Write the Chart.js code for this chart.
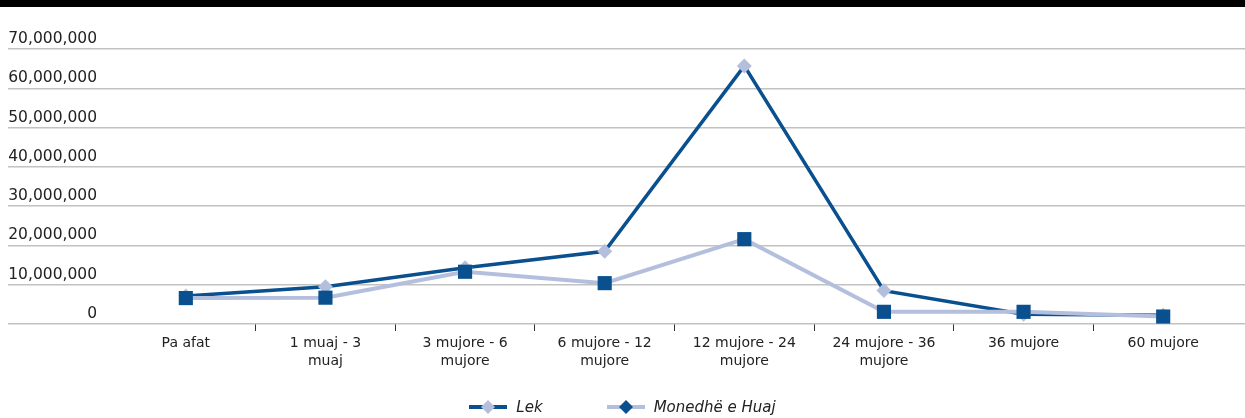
<!DOCTYPE html>
<html lang="sq">
<head>
    <meta charset="UTF-8">
    <title>Afatet - Lek / Monedhë e Huaj</title>
    <script src="https://cdn.jsdelivr.net/npm/chart.js@4.4.0/dist/chart.umd.js"></script>
    <style>
        html, body {
            margin: 0;
            padding: 0;
            background: #ffffff;
        }
        .wrap {
            position: relative;
            width: 1245px;
            height: 418px;
            overflow: hidden;
        }
        .topbar {
            position: absolute;
            left: 0;
            top: 0;
            width: 1245px;
            height: 7px;
            background: #000000;
        }
        #legend {
            position: absolute;
            left: 0;
            top: 398px;
            width: 1245px;
            display: flex;
            justify-content: center;
            align-items: center;
            font-family: "DejaVu Sans", sans-serif;
            font-style: italic;
            font-size: 15px;
            color: #222222;
        }
        #legend .item {
            display: flex;
            align-items: center;
            margin: 0 32px;
        }
        #legend canvas {
            margin-right: 9px;
        }
    </style>
</head>
<body>
    <div class="wrap">
        <canvas id="chart" width="1245" height="418"></canvas>
        <div class="topbar"></div>
        <div id="legend"></div>
    </div>

    <script>
        // categories (multi-line tick labels)
        const CATEGORIES = [
            ['Pa afat'],
            ['1 muaj - 3', 'muaj'],
            ['3 mujore - 6', 'mujore'],
            ['6 mujore - 12', 'mujore'],
            ['12 mujore - 24', 'mujore'],
            ['24 mujore - 36', 'mujore'],
            ['36 mujore'],
            ['60 mujore']
        ];

        const SERIES_NAMES = ['Lek', 'Monedhë e Huaj'];

        // values
        const LEK = [7100000, 9500000, 14300000, 18500000, 65700000, 8500000, 2500000, 2200000];
        const FOREIGN = [6600000, 6700000, 13300000, 10400000, 21600000, 3100000, 3100000, 1900000];

        const Y_MAX = 70000000;
        const Y_STEP = 10000000;

        const DARK = '#0a4f8e';
        const LIGHT = '#b4bfdd';
        const GRID = '#c2c2c2';
        const TEXT = '#222222';

        const chart = new Chart(document.getElementById('chart'), {
            type: 'line',
            data: {
                labels: CATEGORIES,
                datasets: [
                    {
                        label: SERIES_NAMES[0],
                        data: LEK,
                        order: 1,
                        borderColor: DARK,
                        borderWidth: 3.5,
                        pointStyle: 'rectRot',
                        pointRadius: 7.5,
                        pointBackgroundColor: LIGHT,
                        pointBorderWidth: 0,
                        tension: 0
                    },
                    {
                        label: SERIES_NAMES[1],
                        data: FOREIGN,
                        order: 0,
                        borderColor: LIGHT,
                        borderWidth: 4,
                        pointStyle: 'rect',
                        pointRadius: 10,
                        pointBackgroundColor: DARK,
                        pointBorderWidth: 0,
                        tension: 0
                    }
                ]
            },
            options: {
                responsive: false,
                animation: false,
                events: [],
                layout: {
                    padding: { left: 8, right: 0, top: 49, bottom: 34 }
                },
                plugins: {
                    legend: { display: false },
                    tooltip: { enabled: false }
                },
                scales: {
                    x: {
                        offset: true,
                        border: { display: false },
                        grid: {
                            offset: true,
                            drawOnChartArea: false,
                            drawTicks: true,
                            tickLength: 7,
                            lineWidth: 1,
                            color: 'transparent',
                            tickColor: function(ctx) {
                                // no tick mark at the two outer edges
                                if (ctx.type !== 'tick' || ctx.index === 0) return 'transparent';
                                return '#333333';
                            }
                        },
                        ticks: {
                            autoSkip: false,
                            maxRotation: 0,
                            padding: 3,
                            color: TEXT,
                            font: { family: 'DejaVu Sans', size: 14, lineHeight: 1.3 }
                        },
                        afterFit: function(scale) { scale.height = 60; }
                    },
                    y: {
                        position: 'left',
                        min: 0,
                        max: Y_MAX,
                        border: { display: false },
                        grid: {
                            color: GRID,
                            lineWidth: 1.5,
                            drawTicks: true,
                            tickLength: 108
                        },
                        ticks: {
                            stepSize: Y_STEP,
                            padding: -89,
                            labelOffset: -10,
                            color: TEXT,
                            font: { family: 'DejaVu Sans', size: 15.5 },
                            callback: function(value) {
                                return value.toLocaleString('en-US');
                            }
                        },
                        afterFit: function(scale) { scale.width = 108; }
                    },
                    y2: {
                        position: 'right',
                        min: 0,
                        max: Y_MAX,
                        border: { display: false },
                        grid: {
                            color: GRID,
                            lineWidth: 1.5,
                            drawOnChartArea: false,
                            drawTicks: true,
                            tickLength: 12
                        },
                        ticks: { stepSize: Y_STEP, display: false },
                        afterFit: function(scale) { scale.width = 12; }
                    }
                }
            }
        });

        // legend: line sample with a diamond marker, built from the datasets
        const legendDiv = document.getElementById('legend');
        chart.data.datasets.forEach(function(ds) {
            const item = document.createElement('div');
            item.className = 'item';
            const sw = document.createElement('canvas');
            sw.width = 38;
            sw.height = 16;
            const c = sw.getContext('2d');
            c.strokeStyle = ds.borderColor;
            c.lineWidth = 4;
            c.beginPath();
            c.moveTo(0, 8);
            c.lineTo(38, 8);
            c.stroke();
            c.fillStyle = ds.pointBackgroundColor;
            c.beginPath();
            c.moveTo(19, 1);
            c.lineTo(26, 8);
            c.lineTo(19, 15);
            c.lineTo(12, 8);
            c.closePath();
            c.fill();
            const txt = document.createElement('span');
            txt.textContent = ds.label;
            item.appendChild(sw);
            item.appendChild(txt);
            legendDiv.appendChild(item);
        });
    </script>
</body>
</html>
